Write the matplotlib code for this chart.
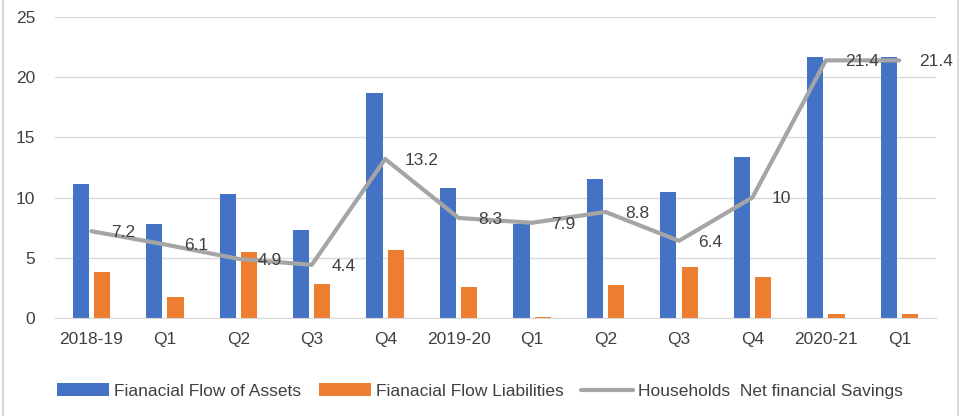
import numpy as np
import matplotlib.pyplot as plt

categories = ['2018-19', 'Q1', 'Q2', 'Q3', 'Q4', '2019-20', 'Q1', 'Q2', 'Q3', 'Q4', '2020-21', 'Q1']
assets = [11.1, 7.8, 10.3, 7.3, 18.7, 10.8, 7.8, 11.5, 10.5, 13.4, 21.7, 21.7]
liabilities = [3.8, 1.7, 5.5, 2.8, 5.6, 2.6, 0.05, 2.7, 4.2, 3.4, 0.3, 0.3]
net_savings = [7.2, 6.1, 4.9, 4.4, 13.2, 8.3, 7.9, 8.8, 6.4, 10, 21.4, 21.4]

blue = '#4472C4'
orange = '#ED7D31'
grey = '#A5A5A5'
text_col = '#404040'

plt.rcParams['font.family'] = ['Liberation Sans', 'DejaVu Sans']

fig = plt.figure(figsize=(9.6, 4.16), dpi=100)
ax = fig.add_axes([0.057, 0.236, 0.918, 0.723])

x = np.arange(len(categories))
w = 0.22
b1 = ax.bar(x - 0.145, assets, w, color=blue, label='Fianacial Flow of Assets', zorder=2)
b2 = ax.bar(x + 0.145, liabilities, w, color=orange, label='Fianacial Flow Liabilities', zorder=2)
ln, = ax.plot(x, net_savings, color=grey, lw=3, label='Households  Net financial Savings',
              zorder=3, solid_capstyle='round')

# data labels to the right of the line points
for xi, v in zip(x, net_savings):
    ax.annotate(f'{v:g}', (xi, v), xytext=(14, -1), textcoords='offset points',
                ha='left', va='center', fontsize=12.5, color=text_col, zorder=4)

ax.set_xlim(-0.5, len(categories) - 0.5)
ax.set_ylim(0, 25)
ax.set_yticks(range(0, 26, 5))
ax.set_xticks(x)
ax.set_xticklabels(categories)
ax.tick_params(axis='both', length=0, labelsize=12.5, labelcolor=text_col)
ax.tick_params(axis='x', pad=10)
ax.tick_params(axis='y', pad=14)
ax.grid(axis='y', color='#D9D9D9', lw=1, zorder=0)
for s in ax.spines.values():
    s.set_visible(False)
ax.spines['bottom'].set_visible(True)
ax.spines['bottom'].set_color('#D9D9D9')

fig.legend([b1, b2, ln], [b1.get_label(), b2.get_label(), ln.get_label()],
           loc='center', bbox_to_anchor=(0.5, 0.06), ncol=3, frameon=False,
           fontsize=12.5, labelcolor=text_col, handlelength=3, handleheight=0.7,
           handletextpad=0.3, columnspacing=1.0)

# faint chart frame on the left and right edges
fig.add_artist(plt.Line2D([0.003, 0.003], [0, 1], color='#D9D9D9', lw=1.5))
fig.add_artist(plt.Line2D([0.998, 0.998], [0, 1], color='#D9D9D9', lw=1.5))

fig.savefig('out.png', dpi=100)
